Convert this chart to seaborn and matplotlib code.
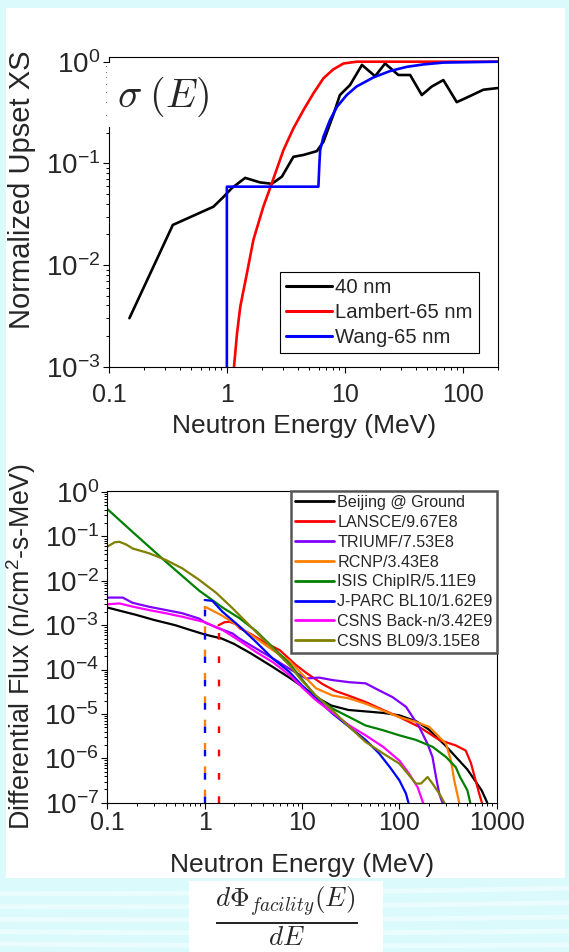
import matplotlib
matplotlib.use("Agg")
import numpy as np
import pandas as pd
import matplotlib.pyplot as plt
import seaborn as sns
from matplotlib.patches import Rectangle
from matplotlib.lines import Line2D
from matplotlib.ticker import LogLocator, NullFormatter, FixedLocator, FixedFormatter

# ---------------- normalized upset cross sections ----------------
xs40_energy = [0.149, 0.348, 0.77, 0.94, 1.10, 1.43, 1.91, 2.41, 2.93, 3.67, 4.47, 5.8,
               6.6, 8.0, 9.1, 11.1, 14.0, 18.1, 22.0, 28.5, 35.9, 45.1, 54.8, 68.7,
               89.3, 116, 150, 197]
xs40_value = [0.0030, 0.0248, 0.0375, 0.047, 0.057, 0.072, 0.065, 0.063, 0.074, 0.116,
              0.121, 0.132, 0.163, 0.30, 0.47, 0.59, 0.93, 0.72, 0.96, 0.74, 0.74, 0.47,
              0.57, 0.66, 0.40, 0.46, 0.53, 0.55]

lambert_energy = [1.15, 1.22, 1.30, 1.48, 1.68, 2.04, 2.41, 3.02, 3.67, 4.47, 5.43, 6.6,
                  8.0, 9.75, 12.6, 200]
lambert_value = [0.001, 0.00213, 0.0039, 0.0083, 0.0177, 0.0375, 0.064, 0.135, 0.221,
                 0.335, 0.489, 0.687, 0.84, 0.96, 1.0, 1.0]

wang_energy = [1.0, 1.0, 5.98, 6.1, 6.19, 6.6, 7.5, 8.6, 10.4, 12.6, 17.5, 24.3, 33.6,
               46.5, 68.7, 200]
wang_value = [0.001, 0.059, 0.059, 0.10, 0.135, 0.183, 0.267, 0.36, 0.47, 0.57, 0.70,
              0.81, 0.89, 0.94, 0.98, 1.0]

xs_labels = ["40 nm", "Lambert-65 nm", "Wang-65 nm"]
xs_colors = ["#000000", "#ff0000", "#0000ff"]

# ---------------- facility differential spectra ----------------
beijing_energy = [0.1, 0.2, 0.3, 0.5, 0.7, 1.0, 1.5, 2.0, 3.0, 5.0, 7.4, 10, 15, 20, 30,
                  50, 70, 100, 150, 200, 300, 500, 700, 800]
beijing_flux = [2.51e-3, 1.70e-3, 1.32e-3, 1.0e-3, 7.9e-4, 6.2e-4, 5.0e-4, 3.8e-4, 2.3e-4,
                1.15e-4, 6.6e-5, 4.2e-5, 2.2e-5, 1.55e-5, 1.23e-5, 1.12e-5, 1.05e-5,
                9.3e-6, 6.8e-6, 4.5e-6, 1.9e-6, 5.6e-7, 1.9e-7, 1.0e-7]

lansce_energy = [1.39, 1.6, 1.8, 2.1, 2.3, 3.0, 4.3, 5.9, 8.7, 11, 16.3, 22, 30, 45, 70,
                 100, 160, 257, 380, 480, 543, 600, 661, 705]
lansce_flux = [1.0e-3, 1.17e-3, 1.2e-3, 1.05e-3, 8.5e-4, 6.3e-4, 3.9e-4, 2.75e-4, 1.26e-4,
               8.5e-5, 4.7e-5, 3.3e-5, 2.6e-5, 1.86e-5, 1.2e-5, 8.5e-6, 5.1e-6, 2.6e-6,
               1.95e-6, 1.5e-6, 7.9e-7, 3.5e-7, 1.6e-7, 1.0e-7]

triumf_energy = [0.1, 0.144, 0.182, 0.27, 0.4, 0.59, 0.88, 1.03, 1.31, 1.53, 1.94, 2.27,
                 3.37, 5.4, 7.4, 11, 15, 20.6, 30.6, 45, 62, 85, 117, 160, 195, 219, 238,
                 257, 277]
triumf_flux = [4.2e-3, 4.2e-3, 3.2e-3, 2.6e-3, 2.2e-3, 1.86e-3, 1.41e-3, 1.12e-3, 9.1e-4,
               7.9e-4, 6.5e-4, 5.0e-4, 3.0e-4, 1.62e-4, 1.05e-4, 6.3e-5, 6.6e-5, 5.8e-5,
               5.2e-5, 4.9e-5, 3.4e-5, 2.4e-5, 1.45e-5, 5.1e-6, 2.1e-6, 1.07e-6, 3.8e-7,
               1.6e-7, 1.0e-7]

rcnp_energy = [1.0, 1.05, 1.5, 2.0, 2.7, 3.4, 5, 7.4, 10, 13.9, 20.6, 30.6, 45, 73, 100,
               148, 203, 238, 302, 339, 366, 412]
rcnp_flux = [2.6e-3, 2.5e-3, 1.66e-3, 1.12e-3, 7.1e-4, 5.0e-4, 2.75e-4, 1.58e-4, 7.9e-5,
             3.8e-5, 2.6e-5, 2.24e-5, 1.7e-5, 1.12e-5, 8.5e-6, 6.6e-6, 5.1e-6, 3.6e-6,
             2.1e-6, 8.9e-7, 3.2e-7, 1.0e-7]

isis_energy = [0.1, 0.18, 0.4, 0.88, 1.53, 2.27, 3.37, 5, 7.4, 10, 13.9, 20.6, 30.6, 45,
               68, 100, 148, 219, 302, 380, 420, 500, 535]
isis_flux = [0.417, 0.129, 0.0269, 6.0e-3, 2.5e-3, 1.45e-3, 7.4e-4, 3.2e-4, 1.38e-4, 6.0e-5,
             2.5e-5, 1.32e-5, 8.5e-6, 5.5e-6, 4.3e-6, 3.3e-6, 2.6e-6, 1.82e-6, 1.07e-6,
             6.3e-7, 3.8e-7, 1.9e-7, 1.0e-7]

jparc_energy = [1.0, 1.2, 1.53, 2.27, 3.37, 5, 7.4, 10, 13.9, 20.6, 30.6, 45, 62, 80, 100,
                117, 124]
jparc_flux = [3.7e-3, 3.55e-3, 2.0e-3, 9.5e-4, 4.2e-4, 1.78e-4, 8.9e-5, 4.4e-5, 2.24e-5,
              1.02e-5, 5.1e-6, 2.6e-6, 1.29e-6, 6.3e-7, 3.2e-7, 1.6e-7, 1.0e-7]

backn_energy = [0.1, 0.133, 0.182, 0.27, 0.4, 0.59, 0.88, 1.03, 1.31, 1.53, 2.27, 3.37, 5,
                7.4, 10, 13.9, 20.6, 30.6, 45, 68, 100, 126, 154, 175]
backn_flux = [2.95e-3, 3.1e-3, 2.63e-3, 2.19e-3, 1.86e-3, 1.55e-3, 1.26e-3, 1.15e-3, 8.9e-4,
              7.8e-4, 4.5e-4, 2.5e-4, 1.48e-4, 7.6e-5, 4.0e-5, 2.04e-5, 1.07e-5, 5.5e-6,
              3.3e-6, 1.82e-6, 8.9e-7, 4.5e-7, 2.24e-7, 1.0e-7]

bl09_energy = [0.1, 0.119, 0.133, 0.156, 0.182, 0.27, 0.4, 0.59, 0.88, 1.31, 1.94, 2.88,
               3.94, 5, 7.4, 10, 13.9, 20.6, 30.6, 45, 68, 100, 148, 167, 195, 219, 257,
               290]
bl09_flux = [0.0589, 0.0741, 0.0759, 0.0661, 0.0537, 0.0417, 0.0295, 0.0191, 0.0105,
             5.4e-3, 2.4e-3, 1.0e-3, 5.0e-4, 3.0e-4, 1.26e-4, 5.6e-5, 2.6e-5, 1.2e-5,
             5.1e-6, 2.34e-6, 1.29e-6, 7.6e-7, 2.7e-7, 2.7e-7, 3.8e-7, 2.7e-7, 1.6e-7,
             1.0e-7]

flux_labels = ["Beijing @ Ground", "LANSCE/9.67E8", "TRIUMF/7.53E8", "RCNP/3.43E8",
               "ISIS ChipIR/5.11E9", "J-PARC BL10/1.62E9", "CSNS Back-n/3.42E9",
               "CSNS BL09/3.15E8"]
flux_colors = ["#000000", "#ff0000", "#8000ff", "#ff8000", "#008000", "#0000ff",
               "#ff00ff", "#808000"]

# low-energy cut-offs of the beam spectra (drawn as dashed drops)
cut_energy = [1.0, 1.0, 1.39]
cut_top = [3.7e-3, 2.63e-3, 1.0e-3]
cut_colors = ["#0000ff", "#ff8000", "#ff0000"]
cut_offsets = [0.0, -4.8, 0.0]

# ---------------- tick labels ----------------
top_xticks = [0.1, 1, 10, 100]
top_xticklabels = ["0.1", "1", "10", "100"]
top_yticks = [1e-3, 1e-2, 1e-1, 1]
top_yticklabels = [r"$\mathdefault{10^{-3}}$", r"$\mathdefault{10^{-2}}$",
                   r"$\mathdefault{10^{-1}}$", r"$\mathdefault{10^{0}}$"]
bot_xticks = [0.1, 1, 10, 100, 1000]
bot_xticklabels = ["0.1", "1", "10", "100", "1000"]
bot_yticks = [1e-7, 1e-6, 1e-5, 1e-4, 1e-3, 1e-2, 1e-1, 1]
bot_yticklabels = [r"$\mathdefault{10^{-7}}$", r"$\mathdefault{10^{-6}}$",
                   r"$\mathdefault{10^{-5}}$", r"$\mathdefault{10^{-4}}$",
                   r"$\mathdefault{10^{-3}}$", r"$\mathdefault{10^{-2}}$",
                   r"$\mathdefault{10^{-1}}$", r"$\mathdefault{10^{0}}$"]

# ---------------- style ----------------
sns.set_style("ticks")
plt.rcParams["font.family"] = ["Liberation Sans", "DejaVu Sans"]
plt.rcParams["axes.unicode_minus"] = False
plt.rcParams["lines.scale_dashes"] = False
plt.rcParams["axes.linewidth"] = 0.8

BG = "#dafafc"
W, H = 569, 952
CARD_BOTTOM = 878
fig = plt.figure(figsize=(W / 100, H / 100), dpi=100)
fig.patch.set_facecolor(BG)


def fx(px):
    return px / W


def fy(py):
    return 1 - py / H


# white card behind both panels
fig.patches.append(Rectangle((fx(6), fy(CARD_BOTTOM)), fx(565) - fx(6),
                             fy(8) - fy(CARD_BOTTOM), transform=fig.transFigure,
                             facecolor="white", edgecolor="none", zorder=-5))

ax1 = fig.add_axes([fx(109), fy(366.7), fx(498.3) - fx(109), fy(56.7) - fy(366.7)])
ax2 = fig.add_axes([fx(107.3), fy(802.7), fx(496.7) - fx(107.3), fy(491) - fy(802.7)])

for ax in (ax1, ax2):
    ax.set_xscale("log")
    ax.set_yscale("log")
    ax.set_facecolor("white")
    for s in ax.spines.values():
        s.set_color("black")
        s.set_linewidth(0.8)

# ---------------- top panel: sigma(E) ----------------
xs_df = pd.concat([
    pd.DataFrame({"E": xs40_energy, "XS": xs40_value, "curve": xs_labels[0]}),
    pd.DataFrame({"E": lambert_energy, "XS": lambert_value, "curve": xs_labels[1]}),
    pd.DataFrame({"E": wang_energy, "XS": wang_value, "curve": xs_labels[2]}),
], ignore_index=True)
sns.lineplot(data=xs_df, x="E", y="XS", hue="curve", hue_order=xs_labels,
             palette=xs_colors, sort=False, estimator=None, lw=1.9, ax=ax1,
             legend=False)

ax1.set_xlim(0.1, 201)
ax1.set_ylim(1e-3, 1.12)
ax1.xaxis.set_major_locator(FixedLocator(top_xticks))
ax1.xaxis.set_major_formatter(FixedFormatter(top_xticklabels))
ax1.yaxis.set_major_locator(FixedLocator(top_yticks))
ax1.yaxis.set_major_formatter(FixedFormatter(top_yticklabels))
ax1.set_xlabel("Neutron Energy (MeV)", fontsize=19, labelpad=5)
ax1.set_ylabel("Normalized Upset XS", fontsize=21, va="center")
ax1.yaxis.set_label_coords((22 - 109) / 389.3, (366.7 - 190) / 310)

leg1 = ax1.legend(handles=[Line2D([], [], color=c, lw=2.2) for c in xs_colors],
                  labels=xs_labels, loc="upper left",
                  bbox_to_anchor=((280 - 109) / 389.3, (366.7 - 272) / 310),
                  borderaxespad=0, fontsize=14.6, fancybox=False, framealpha=1,
                  edgecolor="black", handlelength=2.3, handletextpad=0.15,
                  labelspacing=0.3, borderpad=0.28)
leg1.get_frame().set_linewidth(0.8)

# white label patch carrying sigma(E)
ax1.add_patch(Rectangle((-0.004, (366.7 - 127) / 310), 0.30, (127 - 63) / 310,
                        transform=ax1.transAxes, facecolor="white", edgecolor="none",
                        clip_on=False, zorder=2.6))
ax1.text(0.02, 0.87, r"$\sigma\;(E)$", transform=ax1.transAxes, fontsize=29,
         math_fontfamily="cm", ha="left", va="center", zorder=3)

# ---------------- bottom panel: spectra ----------------
flux_df = pd.concat([
    pd.DataFrame({"E": e, "flux": f, "facility": lab})
    for e, f, lab in zip(
        [beijing_energy, lansce_energy, triumf_energy, rcnp_energy, isis_energy,
         jparc_energy, backn_energy, bl09_energy],
        [beijing_flux, lansce_flux, triumf_flux, rcnp_flux, isis_flux, jparc_flux,
         backn_flux, bl09_flux],
        flux_labels)
], ignore_index=True)
sns.lineplot(data=flux_df, x="E", y="flux", hue="facility", hue_order=flux_labels,
             palette=flux_colors, sort=False, estimator=None, lw=1.6, ax=ax2,
             legend=False)

for e, top, c, off in zip(cut_energy, cut_top, cut_colors, cut_offsets):
    ax2.vlines(e, 1e-7, top, colors=c, lw=1.7,
               linestyles=[(off, (4.8, 12.0))], zorder=2.2)

ax2.set_xlim(0.1, 1000)
ax2.set_ylim(1e-7, 1.06)
ax2.xaxis.set_major_locator(FixedLocator(bot_xticks))
ax2.xaxis.set_major_formatter(FixedFormatter(bot_xticklabels))
ax2.yaxis.set_major_locator(FixedLocator(bot_yticks))
ax2.yaxis.set_major_formatter(FixedFormatter(bot_yticklabels))
ax2.set_xlabel("Neutron Energy (MeV)", fontsize=19, labelpad=13)
ax2.set_ylabel(r"Differential Flux (n/cm$^{\mathdefault{2}}$-s-MeV)", fontsize=19.3,
               va="center")
ax2.yaxis.set_label_coords((21 - 107.3) / 389.4, 0.5)

leg2 = ax2.legend(handles=[Line2D([], [], color=c, lw=2.0) for c in flux_colors],
                  labels=flux_labels, loc="upper right", bbox_to_anchor=(1.0, 1.0),
                  borderaxespad=0, fontsize=11.6, fancybox=False, framealpha=1,
                  edgecolor="#555555", handlelength=2.4, handletextpad=0.2,
                  labelspacing=0.3, borderpad=0.25)
leg2.get_frame().set_linewidth(1.8)

for ax in (ax1, ax2):
    ax.xaxis.set_minor_locator(LogLocator(base=10, subs=np.arange(2, 10), numticks=20))
    ax.yaxis.set_minor_locator(LogLocator(base=10, subs=np.arange(2, 10), numticks=20))
    ax.xaxis.set_minor_formatter(NullFormatter())
    ax.yaxis.set_minor_formatter(NullFormatter())
    ax.tick_params(which="major", direction="out", length=4, width=0.8, color="black",
                   pad=2)
    ax.tick_params(which="minor", direction="out", length=2.5, width=0.7, color="black")
    ax.tick_params(axis="x", labelsize=18)
    ax.tick_params(axis="y", labelsize=20)
ax1.tick_params(axis="x", which="major", pad=8)

# ---------------- cyan footer with the flux formula ----------------
fig.patches.append(Rectangle((0, 0), 1, fy(CARD_BOTTOM), transform=fig.transFigure,
                             facecolor=BG, edgecolor="none", zorder=5))
for i, y0 in enumerate([890, 903, 916, 929, 942]):
    xx = np.linspace(0, 1, 60)
    yy = fy(y0) + 0.006 * (xx - 0.15 * i) ** 2 - 0.004
    fig.add_artist(Line2D(xx, yy, transform=fig.transFigure, color="white",
                          alpha=0.45, lw=3.5, zorder=5.1))
fig.patches.append(Rectangle((fx(189), 0), fx(383) - fx(189), fy(881),
                             transform=fig.transFigure, facecolor="white",
                             edgecolor="none", zorder=6))
fig.text(fx(286), fy(916), r"$\frac{d\Phi_{facility}(E)}{dE}$", fontsize=28,
         math_fontfamily="cm", ha="center", va="center", zorder=7)

fig.savefig("out.png", dpi=100, facecolor=fig.get_facecolor())
